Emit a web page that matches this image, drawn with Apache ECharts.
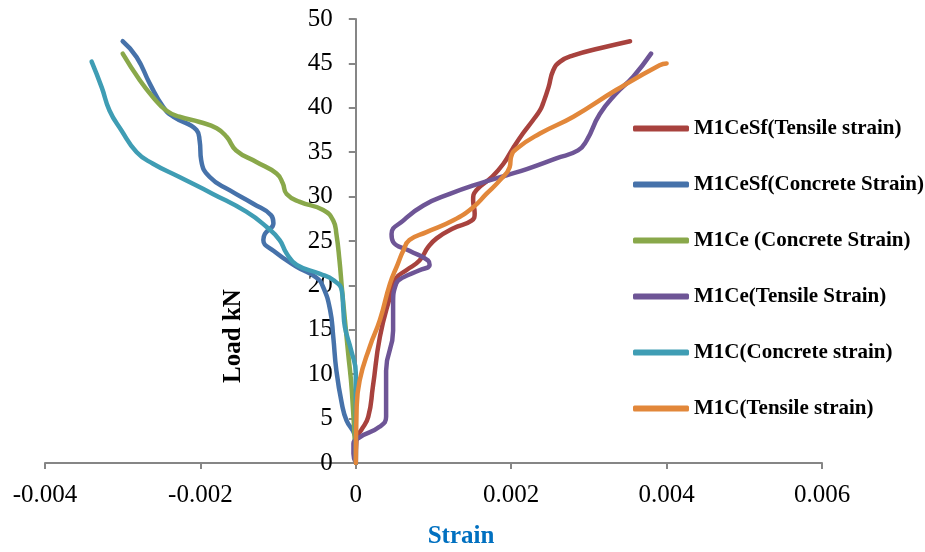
<!DOCTYPE html>
<html>
<head>
<meta charset="utf-8">
<script src="https://cdn.jsdelivr.net/npm/echarts@6/dist/echarts.min.js"></script>
<style>
    html, body { margin: 0; padding: 0; background: #fff; }
    #chart { width: 925px; height: 552px; }
</style>
</head>
<body>
<div id="chart"></div>
<script>
// 图例名称
var seriesNames = [
    'M1CeSf(Tensile strain)',
    'M1CeSf(Concrete Strain)',
    'M1Ce (Concrete Strain)',
    'M1Ce(Tensile Strain)',
    'M1C(Concrete strain)',
    'M1C(Tensile strain)'
];
var seriesColors = ['#A8423E', '#4672AA', '#89A84A', '#6E5596', '#3F9DB4', '#E2873A'];

// 刻度
var xTicks = [-0.004, -0.002, 0, 0.002, 0.004, 0.006];
var yTicks = [0, 5, 10, 15, 20, 25, 30, 35, 40, 45, 50];

// [strain, load]
var m1cesfTensile = [
    [0, 0], [0.00001, 2.9], [0.00007, 3.7], [0.00016, 5.2], [0.00022, 8.6], [0.00031, 14.2],
    [0.00044, 18.7], [0.00052, 20.8], [0.00065, 21.7], [0.00082, 22.8], [0.00093, 24.3],
    [0.00104, 25.3], [0.00125, 26.4], [0.00149, 27.3], [0.00153, 28.1], [0.00151, 29.6],
    [0.00155, 30.7], [0.00175, 32.2], [0.0019, 33.7], [0.00202, 35.4], [0.00215, 37.1],
    [0.00228, 38.6], [0.00237, 39.7], [0.00241, 40.5], [0.00248, 42.3], [0.00254, 44.2],
    [0.00263, 45.2], [0.0028, 45.9], [0.00314, 46.7], [0.00353, 47.5]
];
var m1cesfConcrete = [
    [0, 0], [0, 2.5], [-0.00001, 3.1], [-0.00012, 4.8], [-0.00018, 6.7], [-0.00025, 10.4],
    [-0.00029, 14.2], [-0.00033, 17.2], [-0.00042, 19.8], [-0.00051, 20.9], [-0.00076, 22.1],
    [-0.00106, 23.9], [-0.00119, 25.1], [-0.00117, 25.8], [-0.00106, 27.0], [-0.00109, 27.9],
    [-0.00132, 29.2], [-0.00162, 30.7], [-0.00188, 32.2], [-0.00199, 34.1], [-0.00201, 36.3],
    [-0.00205, 37.5], [-0.00235, 39.0], [-0.00248, 40.1], [-0.00265, 42.7], [-0.00282, 45.7],
    [-0.003, 47.5]
];
var m1ceConcrete = [
    [0, 0], [-0.00005, 8], [-0.0001, 12.5], [-0.00014, 16.1], [-0.00018, 19.8], [-0.00021, 22.8],
    [-0.00025, 25.8], [-0.00029, 27.3], [-0.00042, 28.5], [-0.00072, 29.4], [-0.00089, 30.3],
    [-0.00094, 31.5], [-0.00102, 32.6], [-0.00128, 33.9], [-0.00154, 35.2], [-0.00166, 36.7],
    [-0.00179, 37.7], [-0.00201, 38.4], [-0.00227, 39.0], [-0.00244, 39.7], [-0.00261, 41.2],
    [-0.00278, 43.1], [-0.003, 46.1]
];
var m1ceTensile = [
    [0, 0], [-0.00003, 1.05], [-0.00003, 2.2], [0.00005, 2.9], [0.00031, 4.1], [0.00039, 5.2],
    [0.00039, 6.7], [0.00039, 10.4], [0.00048, 14.9], [0.00048, 17.9], [0.00052, 20.2],
    [0.00061, 20.9], [0.00082, 21.7], [0.00095, 22.3], [0.00093, 22.8], [0.00069, 23.9],
    [0.00048, 24.9], [0.00046, 25.8], [0.00061, 27.3], [0.00087, 29.0], [0.00121, 30.3],
    [0.0016, 31.5], [0.00194, 32.4], [0.0022, 33.1], [0.00258, 34.3], [0.00286, 35.2],
    [0.00297, 36.3], [0.00314, 39.3], [0.00335, 41.6], [0.00357, 43.5], [0.0038, 46.1]
];
var m1cConcrete = [
    [0, 0], [0, 6.7], [0, 10.1], [-0.00006, 12.7], [-0.00014, 15.3], [-0.00016, 17.2],
    [-0.00018, 19.4], [-0.00029, 20.6], [-0.00046, 21.3], [-0.00076, 22.3], [-0.00089, 23.6],
    [-0.00098, 25.1], [-0.00115, 26.6], [-0.00141, 28.3], [-0.00184, 30.3], [-0.00227, 32.2],
    [-0.00261, 33.7], [-0.00282, 35.0], [-0.00302, 37.5], [-0.00317, 39.7], [-0.00327, 42.3],
    [-0.0034, 45.2]
];
var m1cTensile = [
    [0, 0], [0.00001, 5.9], [0.00005, 9.3], [0.00018, 13.1], [0.00031, 16.1], [0.00044, 20.2],
    [0.00054, 22.4], [0.00061, 23.9], [0.00069, 25.1], [0.00091, 26.0], [0.00125, 27.3],
    [0.00151, 28.8], [0.00168, 30.3], [0.00185, 31.8], [0.00198, 33.3], [0.002, 34.5],
    [0.00207, 35.4], [0.00237, 37.1], [0.0028, 39.0], [0.00335, 42.0], [0.00391, 44.8],
    [0.004, 45.0]
];

(function () {
    let myEchart = echarts.init(document.getElementById('chart'));
    let allData = [m1cesfTensile, m1cesfConcrete, m1ceConcrete, m1ceTensile, m1cConcrete, m1cTensile];
    let series = [];
    for (var i = 0; i < allData.length; i++) {
        series.push({
            name: seriesNames[i],
            type: 'line',
            data: allData[i],
            smooth: 0.5,
            symbol: 'none',
            lineStyle: {
                color: seriesColors[i],
                width: 4.5,
                cap: 'round',
                join: 'round'
            },
            itemStyle: {
                color: seriesColors[i]
            }
        });
    }
    // 网格左边到 0 点的距离 (y轴放在 x=0 处)
    let gridLeft = 45, gridRight = 103;
    let plotW = 925 - gridLeft - gridRight;
    let zeroOffset = plotW * (0 - xTicks[0]) / (xTicks[xTicks.length - 1] - xTicks[0]);
    let option = {
        animation: false,
        backgroundColor: '#fff',
        textStyle: {
            fontFamily: 'Liberation Serif'
        },
        grid: {
            left: gridLeft,
            right: gridRight,
            top: 19,
            bottom: 89
        },
        legend: {
            orient: 'vertical',
            left: 628,
            top: 113,
            icon: 'roundRect',
            itemWidth: 56,
            itemHeight: 6,
            itemGap: 35,
            itemTextGap: 4,
            data: seriesNames,
            textStyle: {
                fontFamily: 'Liberation Serif',
                fontWeight: 'bold',
                fontSize: 21,
                color: '#000'
            }
        },
        xAxis: {
            type: 'value',
            min: xTicks[0],
            max: xTicks[xTicks.length - 1],
            interval: 0.002,
            axisLine: {
                lineStyle: { color: '#868686', width: 2 }
            },
            axisTick: {
                show: true,
                length: 6,
                lineStyle: { color: '#868686', width: 2 }
            },
            axisLabel: {
                margin: 20,
                fontSize: 25,
                color: '#000',
                fontFamily: 'Liberation Serif',
                formatter: function (v) {
                    if (Math.abs(v) < 1e-12) return '0';
                    return v.toFixed(3);
                }
            },
            splitLine: { show: false }
        },
        yAxis: {
            type: 'value',
            min: yTicks[0],
            max: yTicks[yTicks.length - 1],
            interval: 5,
            position: 'left',
            offset: -zeroOffset,
            axisLine: {
                show: true,
                onZero: false,
                lineStyle: { color: '#868686', width: 2 }
            },
            axisTick: {
                show: true,
                length: 7,
                lineStyle: { color: '#868686', width: 2 }
            },
            axisLabel: {
                margin: 23,
                fontSize: 25,
                color: '#000',
                fontFamily: 'Liberation Serif'
            },
            splitLine: { show: false }
        },
        graphic: [
            {
                type: 'text',
                x: 234,
                y: 336,
                rotation: Math.PI / 2,
                style: {
                    text: 'Load kN',
                    fontFamily: 'Liberation Serif',
                    fontWeight: 'bold',
                    fontSize: 25,
                    fill: '#000',
                    align: 'center',
                    verticalAlign: 'middle'
                }
            },
            {
                type: 'text',
                x: 461,
                y: 537,
                style: {
                    text: 'Strain',
                    fontFamily: 'Liberation Serif',
                    fontWeight: 'bold',
                    fontSize: 25,
                    fill: '#0070C0',
                    align: 'center',
                    verticalAlign: 'middle'
                }
            }
        ],
        series: series
    };
    myEchart.setOption(option);
    window.addEventListener('resize', function () {
        myEchart.resize();
    })
})();
</script>
</body>
</html>
